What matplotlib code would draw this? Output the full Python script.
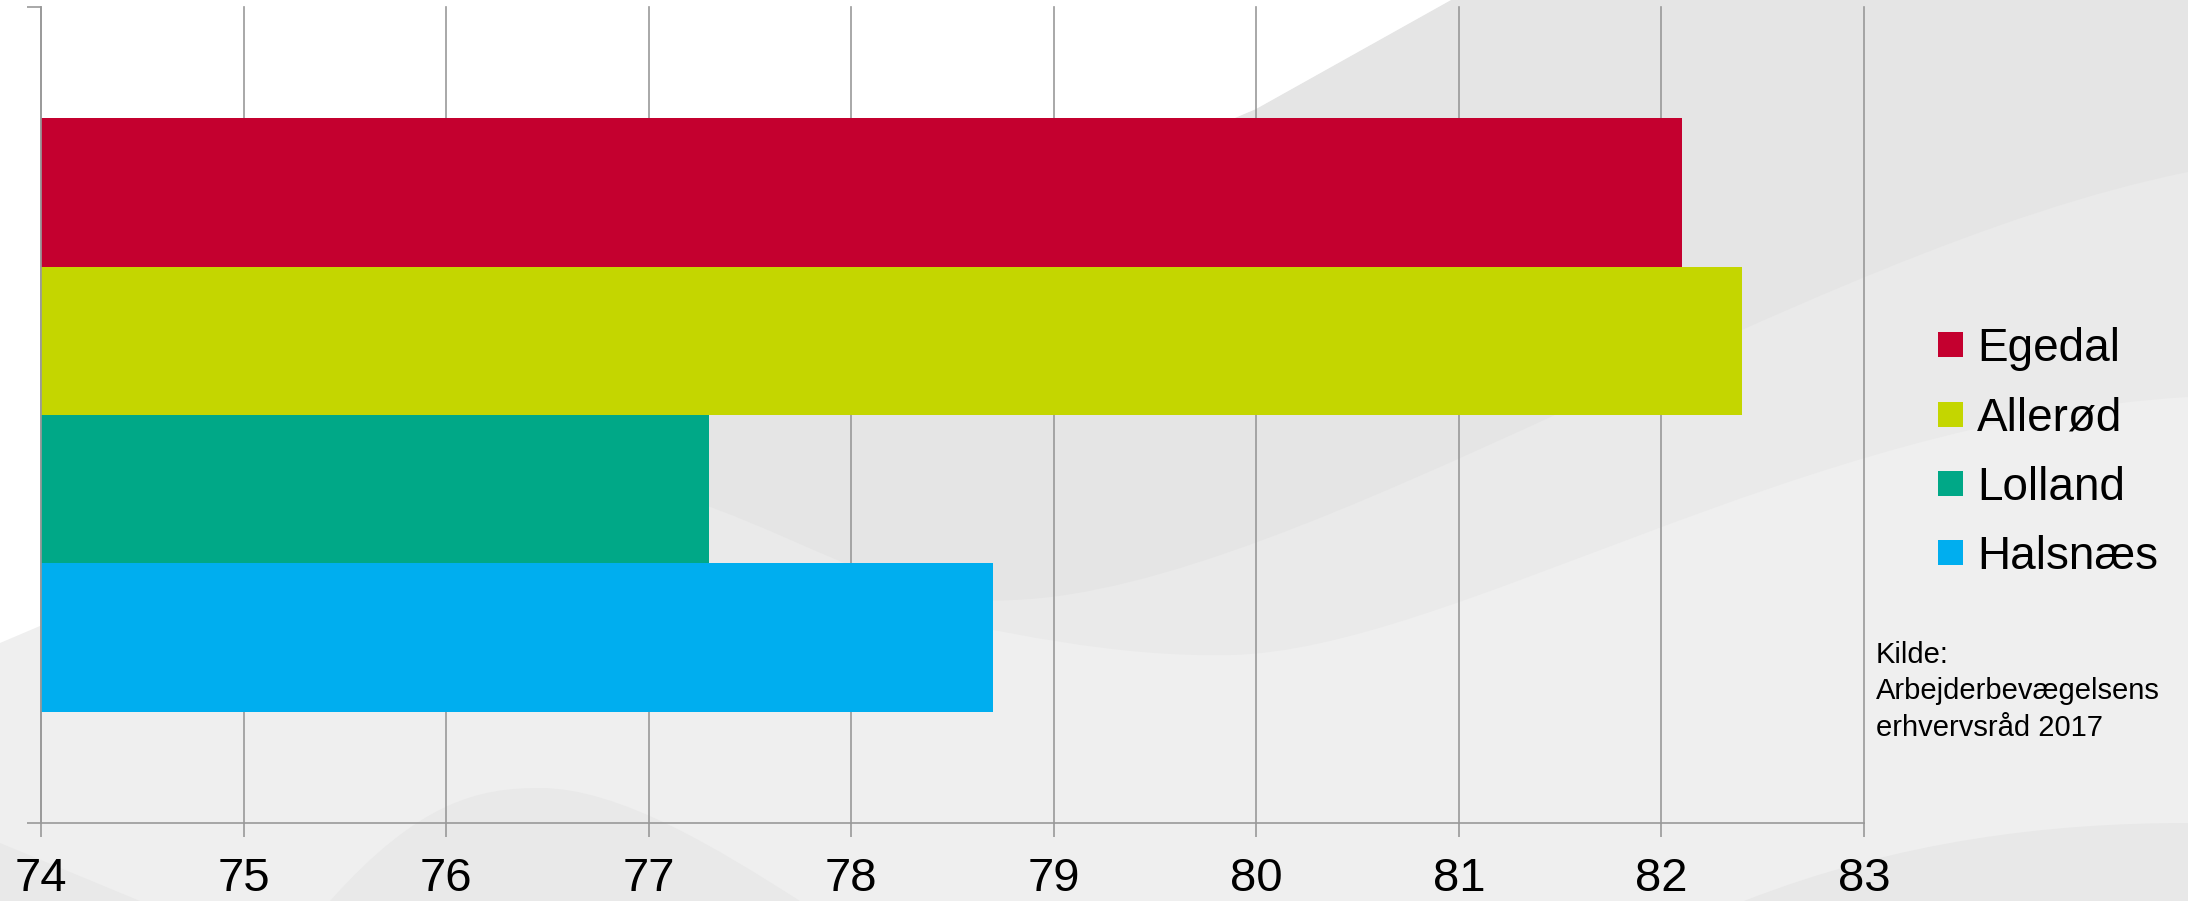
import numpy as np
import matplotlib
matplotlib.use('Agg')
import matplotlib.pyplot as plt
from matplotlib.path import Path
from matplotlib.patches import PathPatch, Rectangle

# data
kommuner = ['Egedal', 'Allerød', 'Lolland', 'Halsnæs']
levealder = [82.1, 82.4, 77.3, 78.7]
farver = ['#C4002F', '#C4D600', '#00A887', '#00AEEF']
x_ticks = list(range(74, 84))
kilde = 'Kilde:\nArbejderbevægelsens\nerhvervsråd 2017'

plt.rcParams['font.family'] = ['Liberation Sans', 'DejaVu Sans']

W, H = 2188, 901
fig = plt.figure(figsize=(W / 100, H / 100), dpi=100)

# background swooshes (pixel coords, y pointing down)
bg = fig.add_axes([0, 0, 1, 1], zorder=-10)
bg.set_xlim(0, W)
bg.set_ylim(H, 0)
bg.axis('off')
bg.add_patch(Rectangle((0, 0), W, H, color='#efefef'))

M, C, L, Z = Path.MOVETO, Path.CURVE4, Path.LINETO, Path.CLOSEPOLY

def swoosh(verts, codes, color):
    bg.add_patch(PathPatch(Path(verts, codes), facecolor=color, edgecolor='none'))

# middle band
swoosh([(2188, 397), (1800, 420), (1450, 650), (1231, 655),
        (1000, 660), (800, 560), (300, 515),
        (1256, 109), (1451, 0), (2188, 0), (2188, 397)],
       [M, C, C, C, C, C, C, L, L, L, Z], '#eaeaea')
# dark band
swoosh([(2188, 172), (1800, 250), (1300, 590), (1013, 600),
        (850, 610), (750, 470), (450, 452),
        (1256, 109), (1451, 0), (2188, 0), (2188, 172)],
       [M, C, C, C, C, C, C, L, L, L, Z], '#e5e5e5')
# bottom bumps
swoosh([(330, 901), (420, 800), (480, 788), (540, 788),
        (620, 788), (720, 850), (800, 901), (330, 901)],
       [M, C, C, C, C, C, C, Z], '#e9e9e9')
swoosh([(0, 843), (140, 901), (0, 901), (0, 843)], [M, L, L, Z], '#e9e9e9')
swoosh([(1744, 901), (1900, 840), (2050, 823), (2188, 823),
        (2188, 901), (1744, 901)], [M, C, C, C, L, Z], '#e8e8e8')
# white corner
swoosh([(0, 0), (1451, 0), (1256, 109), (0, 643), (0, 0)],
       [M, L, L, L, Z], 'white')

# chart
ax = fig.add_axes([41 / W, (H - 823) / H, (1864 - 41) / W, (823 - 7) / H])
ax.patch.set_alpha(0)
y = np.arange(len(kommuner))
bars = ax.barh(y, np.array(levealder) - 74, left=74, height=1.0, color=farver)

ax.set_xlim(74, 83)
ax.set_ylim(len(kommuner) + 0.25, -1.25)
ax.set_axisbelow(True)
ax.set_xticks(x_ticks)
ax.grid(axis='x', color='#999999', lw=1.2)
for gl in ax.get_xgridlines():
    gl.set_clip_on(False)
ax.set_yticks([-1.25, len(kommuner) + 0.25])
ax.set_yticklabels([])
ax.tick_params(axis='y', length=10, width=1.2, color='#999999')
ax.tick_params(axis='x', length=10, width=1.2, color='#999999',
               labelsize=34, pad=14.4, labelcolor='black')
for s in ['top', 'right']:
    ax.spines[s].set_visible(False)
for s in ['left', 'bottom']:
    ax.spines[s].set_color('#999999')
    ax.spines[s].set_linewidth(1.2)

ax.legend(bars.patches, kommuner, loc='center left',
          bbox_to_anchor=(1938 / W, 1 - 453 / H), bbox_transform=fig.transFigure,
          frameon=False, fontsize=33, handlelength=0.55, handleheight=0.46,
          handletextpad=0.3, labelspacing=0.55, borderpad=0, borderaxespad=0)

fig.text(1876 / W, 1 - 641 / H, kilde, va='top', ha='left', fontsize=21,
         linespacing=1.38)

fig.savefig('out.png', dpi=100)
